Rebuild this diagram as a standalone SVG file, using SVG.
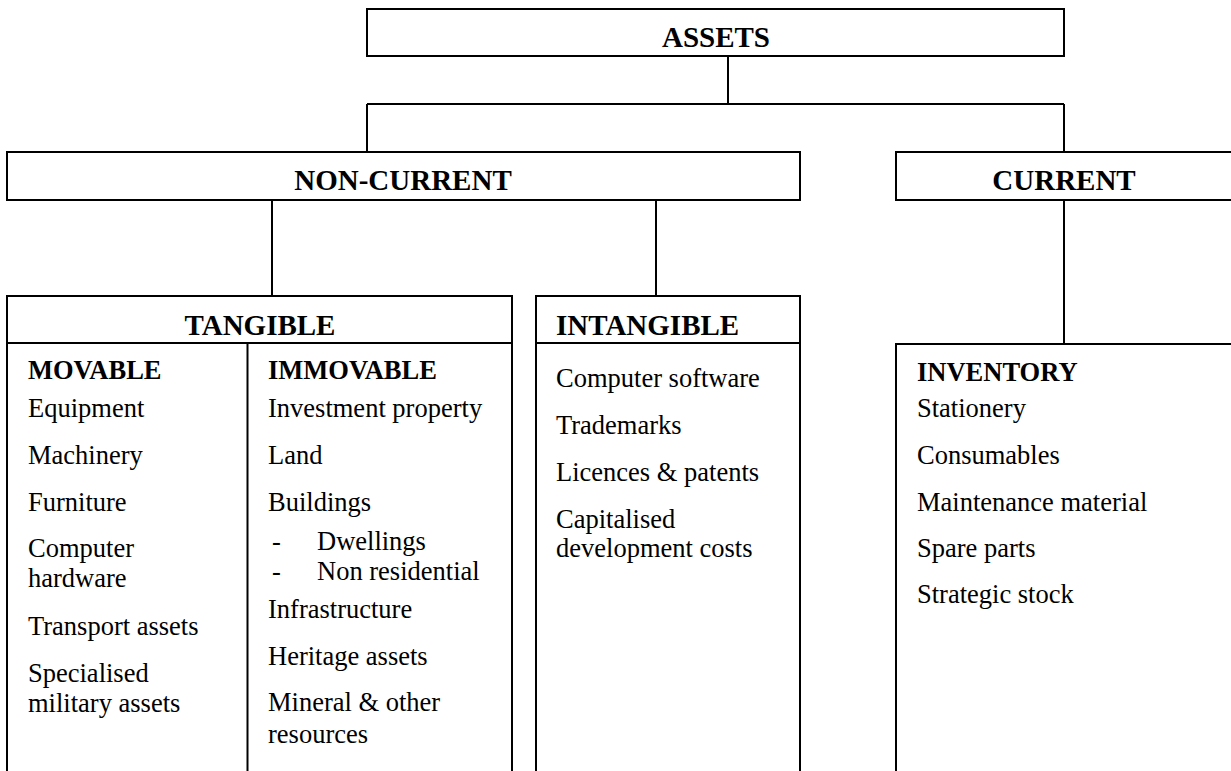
<svg xmlns="http://www.w3.org/2000/svg" width="1231" height="771" viewBox="0 0 1231 771">
<style>
.box{fill:#fff;stroke:#000;stroke-width:2}
.ln{stroke:#000;stroke-width:2;fill:none}
text{font-family:"Liberation Serif","Times New Roman",serif;fill:#000}
.h{font-size:29px;font-weight:bold}
.s{font-size:26.5px;font-weight:bold}
.t{font-size:26.5px}
.c{text-anchor:middle}
</style>
<rect width="1231" height="771" fill="#fff"/>
<g id="connectors">
<path class="ln" d="M728 56V104M367 104H1064M367 104V152M1064 104V152"/>
<path class="ln" d="M272 200V296M656 200V296"/>
<path class="ln" d="M1064 200V344"/>
</g>
<g id="assets">
<rect class="box" x="367" y="9" width="697" height="47"/>
<text class="h c" x="716" y="47">ASSETS</text>
</g>
<g id="non-current">
<rect class="box" x="7" y="152" width="793" height="48"/>
<text class="h c" x="403" y="190">NON-CURRENT</text>
</g>
<g id="current">
<rect class="box" x="896" y="152" width="336" height="48"/>
<text class="h c" x="1064" y="190">CURRENT</text>
</g>
<g id="tangible">
<path class="ln" d="M7 780V296H512V780M7 343H512M247.5 343V780"/>
<text class="h c" x="260" y="335">TANGIBLE</text>
<text class="s" x="28" y="379">MOVABLE</text>
<text class="t" x="28" y="417">Equipment</text>
<text class="t" x="28" y="464">Machinery</text>
<text class="t" x="28" y="511">Furniture</text>
<text class="t" x="28" y="557">Computer</text>
<text class="t" x="28" y="587">hardware</text>
<text class="t" x="28" y="635">Transport assets</text>
<text class="t" x="28" y="682">Specialised</text>
<text class="t" x="28" y="712">military assets</text>
<text class="s" x="268" y="379">IMMOVABLE</text>
<text class="t" x="268" y="417">Investment property</text>
<text class="t" x="268" y="464">Land</text>
<text class="t" x="268" y="511">Buildings</text>
<text class="t" x="272" y="550">-</text>
<text class="t" x="317" y="550">Dwellings</text>
<text class="t" x="272" y="580">-</text>
<text class="t" x="317" y="580">Non residential</text>
<text class="t" x="268" y="618">Infrastructure</text>
<text class="t" x="268" y="665">Heritage assets</text>
<text class="t" x="268" y="711">Mineral &amp; other</text>
<text class="t" x="268" y="743">resources</text>
</g>
<g id="intangible">
<path class="ln" d="M536 780V296H800V780M536 343H800"/>
<text class="h" x="556" y="335">INTANGIBLE</text>
<text class="t" x="556" y="387">Computer software</text>
<text class="t" x="556" y="434">Trademarks</text>
<text class="t" x="556" y="481">Licences &amp; patents</text>
<text class="t" x="556" y="528">Capitalised</text>
<text class="t" x="556" y="557">development costs</text>
</g>
<g id="inventory">
<path class="ln" d="M896 780V344H1240"/>
<text class="s" x="917" y="381">INVENTORY</text>
<text class="t" x="917" y="417">Stationery</text>
<text class="t" x="917" y="464">Consumables</text>
<text class="t" x="917" y="511">Maintenance material</text>
<text class="t" x="917" y="557">Spare parts</text>
<text class="t" x="917" y="603">Strategic stock</text>
</g>
</svg>
